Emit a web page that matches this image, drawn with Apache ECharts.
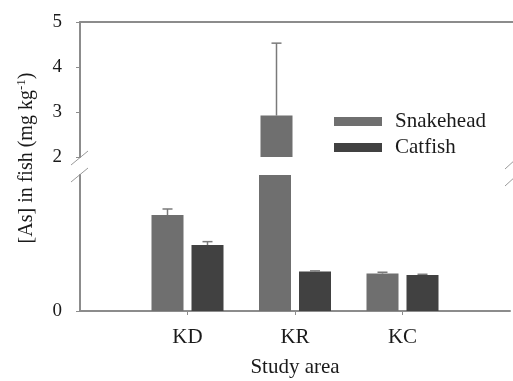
<!DOCTYPE html>
<html>
<head>
<meta charset="utf-8">
<script src="https://cdn.jsdelivr.net/npm/echarts@6/dist/echarts.min.js"></script>
<style>html,body{margin:0;padding:0;background:#fff;}#c{width:513px;height:381px;}</style>
</head>
<body>
<div id="c"></div>
<script>
// ---- data ----
const categories = ['', 'KD', 'KR', 'KC', ''];
const snakehead = [null, 1.41, 2.92, 0.55, null];
const catfish = [null, 0.97, 0.58, 0.53, null];
const snakeheadErr = [null, 0.09, 1.61, 0.02, null];
const catfishErr = [null, 0.05, 0.01, 0.01, null];
const upperRange = [2, 5];
const lowerRange = [0, 2];
const lowerTickValues = [0];
const seriesNames = ['Snakehead', 'Catfish'];

// ---- styling ----
const FONT = 'Liberation Serif';
const AXIS_COLOR = '#8c8c8c';
const TEXT_COLOR = '#1a1a1a';
const C_SNAKE = '#6f6f6f';
const C_CAT = '#414141';
const BAR_W = 32;
const OFFSET = 20;

function errData(vals, errs) {
  const out = [];
  vals.forEach((v, i) => { if (v !== null) out.push([i, v, errs[i]]); });
  return out;
}
function errRender(offset) {
  return function (params, api) {
    const i = api.value(0), v = api.value(1), e = api.value(2);
    const p0 = api.coord([i, v]);
    const p1 = api.coord([i, v + e]);
    const x = p0[0] + offset;
    const st = { stroke: '#7a7a7a', lineWidth: 1.5 };
    return {
      type: 'group',
      children: [
        { type: 'line', shape: { x1: x, y1: p0[1], x2: x, y2: p1[1] }, style: st },
        { type: 'line', shape: { x1: x - 5, y1: p1[1], x2: x + 5, y2: p1[1] }, style: st }
      ]
    };
  };
}

const axisLine = { show: true, onZero: false, lineStyle: { color: AXIS_COLOR, width: 2 } };
const labelStyle = { fontFamily: FONT, fontSize: 21, color: TEXT_COLOR };
const yLabelStyle = { fontFamily: FONT, fontSize: 19, color: TEXT_COLOR };

const series = [];
[0, 1].forEach(g => {
  series.push({
    name: seriesNames[0], type: 'bar', xAxisIndex: g, yAxisIndex: g, data: snakehead,
    barWidth: BAR_W, barGap: '25%', itemStyle: { color: C_SNAKE }, clip: true
  });
  series.push({
    name: seriesNames[1], type: 'bar', xAxisIndex: g, yAxisIndex: g, data: catfish,
    barWidth: BAR_W, barGap: '25%', itemStyle: { color: C_CAT }, clip: true
  });
  series.push({
    type: 'custom', xAxisIndex: g, yAxisIndex: g, clip: true, z: 3,
    data: errData(snakehead, snakeheadErr), renderItem: errRender(-OFFSET),
    encode: { x: 0, y: 1 }
  });
  series.push({
    type: 'custom', xAxisIndex: g, yAxisIndex: g, clip: true, z: 3,
    data: errData(catfish, catfishErr), renderItem: errRender(OFFSET),
    encode: { x: 0, y: 1 }
  });
});

const chart = echarts.init(document.getElementById('c'), null, { renderer: 'canvas' });
chart.setOption({
  animation: false,
  backgroundColor: '#fff',
  grid: [
    { left: 80, right: 0, top: 22, height: 135 },
    { left: 80, right: 0, top: 175, height: 136 }
  ],
  legend: {
    data: seriesNames, orient: 'vertical', left: 329, top: 106,
    icon: 'rect', itemWidth: 48, itemHeight: 9, itemGap: 5,
    textStyle: { fontFamily: FONT, fontSize: 21, color: TEXT_COLOR, padding: [0, 0, 0, 8] }
  },
  xAxis: [
    {
      gridIndex: 0, type: 'category', data: categories, boundaryGap: false, position: 'top',
      axisLine: axisLine, axisTick: { show: false }, axisLabel: { show: false }, splitLine: { show: false }
    },
    {
      gridIndex: 1, type: 'category', data: categories, boundaryGap: false, position: 'bottom',
      axisLine: axisLine,
      axisTick: { show: true, interval: (i, v) => v !== '', length: 4, lineStyle: { color: AXIS_COLOR } },
      axisLabel: Object.assign({ interval: 0, margin: 16 }, labelStyle),
      name: 'Study area', nameLocation: 'middle', nameGap: 46,
      nameTextStyle: labelStyle, splitLine: { show: false }
    }
  ],
  yAxis: [
    {
      gridIndex: 0, type: 'value', min: upperRange[0], max: upperRange[1], interval: 1,
      axisLine: axisLine, axisTick: { show: true, length: 4, lineStyle: { color: AXIS_COLOR } },
      axisLabel: Object.assign({ margin: 18 }, yLabelStyle), splitLine: { show: false }
    },
    {
      gridIndex: 1, type: 'value', min: lowerRange[0], max: lowerRange[1],
      axisLine: axisLine,
      axisTick: { show: true, length: 4, customValues: lowerTickValues, lineStyle: { color: AXIS_COLOR } },
      axisLabel: Object.assign({ margin: 18, customValues: lowerTickValues }, yLabelStyle),
      splitLine: { show: false }
    }
  ],
  graphic: [
    {
      type: 'text', x: 27, y: 158, rotation: Math.PI / 2,
      style: {
        text: '{a|[As] in fish (mg kg}{s|-1}{a|)}',
        align: 'center', verticalAlign: 'middle',
        rich: {
          a: { fontFamily: FONT, fontSize: 20, fill: TEXT_COLOR, color: TEXT_COLOR },
          s: { fontFamily: FONT, fontSize: 13, fill: TEXT_COLOR, color: TEXT_COLOR, padding: [0, 0, 10, 0] }
        }
      }
    },
    { type: 'line', shape: { x1: 71, y1: 165, x2: 88, y2: 151 }, style: { stroke: '#9a9a9a', lineWidth: 1 } },
    { type: 'line', shape: { x1: 71, y1: 182, x2: 88, y2: 168 }, style: { stroke: '#9a9a9a', lineWidth: 1 } },
    { type: 'line', shape: { x1: 505, y1: 169, x2: 516, y2: 159 }, style: { stroke: '#9a9a9a', lineWidth: 1 } },
    { type: 'line', shape: { x1: 505, y1: 186, x2: 516, y2: 176 }, style: { stroke: '#9a9a9a', lineWidth: 1 } }
  ],
  series: series
});
</script>
</body>
</html>
